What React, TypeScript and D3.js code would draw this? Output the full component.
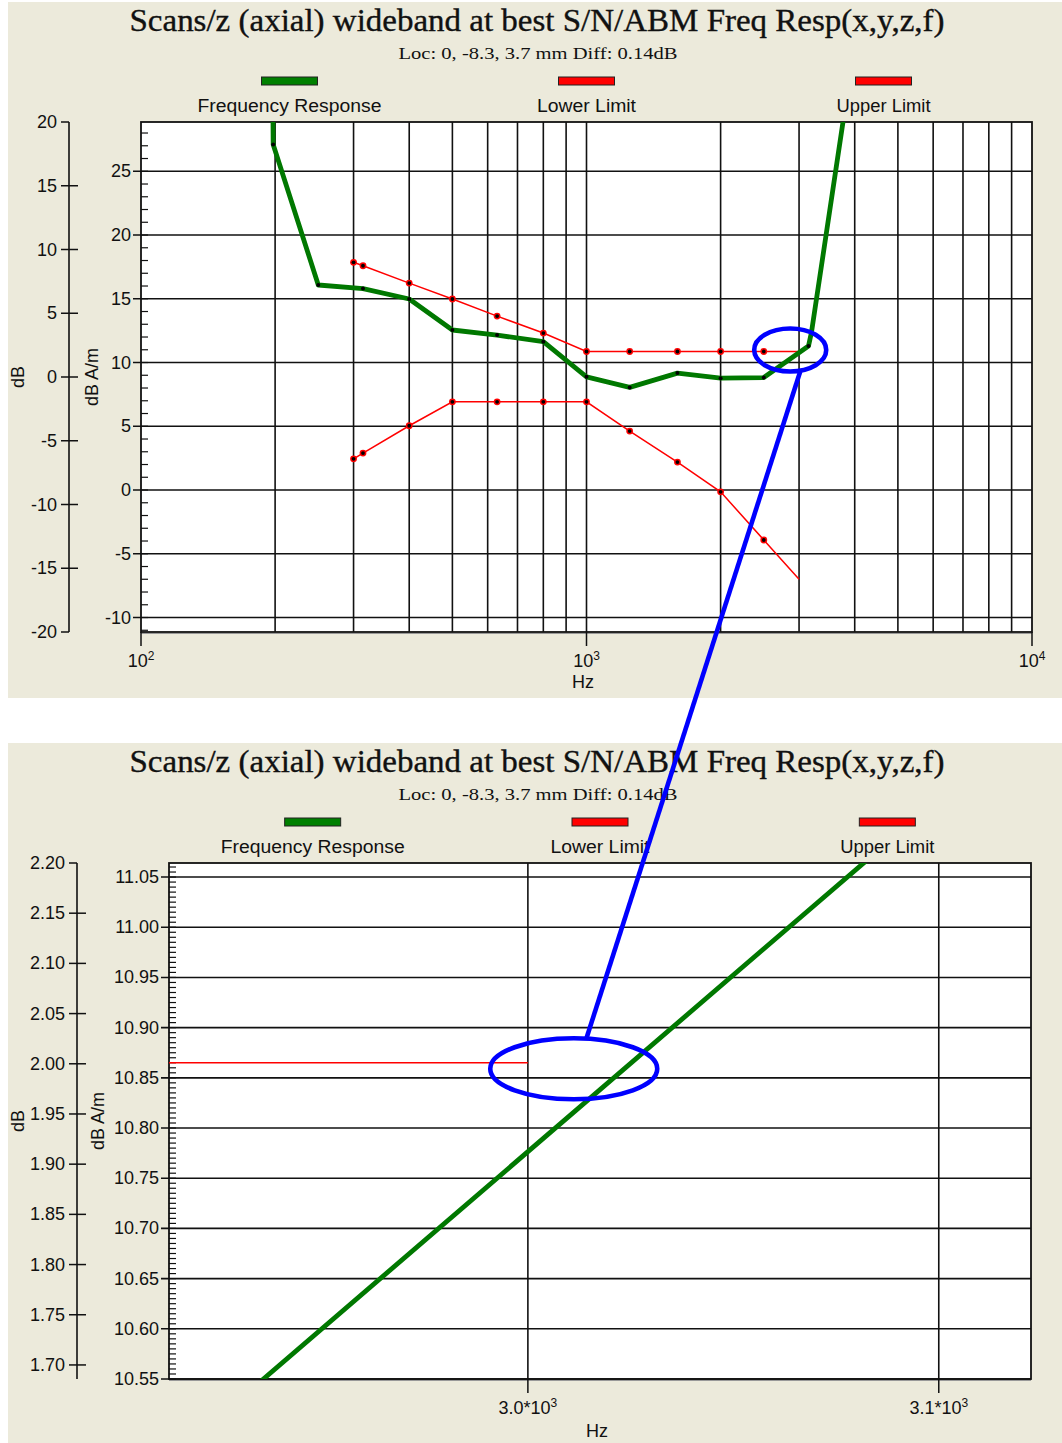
import React from 'react';
import * as d3 from 'd3';

const TITLE = 'Scans/z (axial) wideband at best S/N/ABM Freq Resp(x,y,z,f)';
const SUBTITLE = 'Loc: 0, -8.3, 3.7 mm Diff: 0.14dB';
const LEGEND_NAMES = ['Frequency Response', 'Lower Limit', 'Upper Limit'];
const LEGEND_WIDTHS = [184, 99, 94];
const LEGEND_COLORS = ['#008000', '#ff0000', '#ff0000'];

// Frequency response (dB A/m)
const respFreq = [195, 198, 250, 315, 400, 500, 630, 800, 1000, 1250, 1600, 2000, 2500, 3150, 3200, 4000];
const respValue = [60, 27.1, 16.08, 15.8, 14.98, 12.55, 12.15, 11.63, 8.88, 8.05, 9.17, 8.77, 8.82, 11.3, 12.4, 35];
const respMarked = [false, true, true, true, true, true, true, true, true, true, true, true, true, true, false, false];

// Limits (dB A/m)
const limitFreq = [300, 315, 400, 500, 630, 800, 1000, 1250, 1600, 2000, 2500, 3000];
const upperValue = [17.86, 17.59, 16.23, 14.98, 13.64, 12.31, 10.865, 10.865, 10.865, 10.865, 10.865, 10.865];
const lowerValue = [2.45, 2.9, 5.04, 6.92, 6.92, 6.92, 6.92, 4.62, 2.19, -0.14, -3.92, -7.0];

const DB_OFFSET = 8.864; // dB A/m = dB + offset

// Overview panel axes
const topFreqDomain = [100, 10000];
const topDbDomain = [-20, 20];
const topDecades = [100, 1000, 10000];
const topDecadeExp = ['2', '3', '4'];
const topDbTicks = [-20, -15, -10, -5, 0, 5, 10, 15, 20];
const topAmTicks = [-10, -5, 0, 5, 10, 15, 20, 25];

// Zoom panel axes
const zoomFreqDomain = [2915.3, 3122.9];
const zoomDbDomain = [1.686, 2.2];
const zoomFreqTicks = [3000, 3100];
const zoomFreqLabels = ['3.0*10', '3.1*10'];
const zoomDbTicks = [1.7, 1.75, 1.8, 1.85, 1.9, 1.95, 2.0, 2.05, 2.1, 2.15, 2.2];
const zoomAmTicks = [10.55, 10.6, 10.65, 10.7, 10.75, 10.8, 10.85, 10.9, 10.95, 11.0, 11.05];

// Annotation focus (Hz, dB A/m)
const focusTop = [2866, 10.98];
const focusZoom = [3011, 10.859];

const SANS = 'Liberation Sans, Arial, sans-serif';
const SERIF = 'Liberation Serif, Times New Roman, serif';
const BG = '#ECEADB';

const fmtInt = (v) => String(Math.round(v));
const fmt2 = (v) => v.toFixed(2);

function Panel({ cfg, x, yL, yR }) {
  const { plot, id } = cfg;
  const line = d3.line().x((d) => x(d[0])).y((d) => yR(d[1]));
  const resp = respFreq.map((f, i) => [f, respValue[i]]);
  const up = limitFreq.map((f, i) => [f, upperValue[i]]);
  const lo = limitFreq.map((f, i) => [f, lowerValue[i]]);
  const legend = d3.scaleBand().domain(LEGEND_NAMES).range([plot.l, plot.r]);
  const [r0, r1] = yR.domain();
  const minorTicks = d3
    .range(Math.ceil(r0 / cfg.minorStep - 1e-6), Math.floor(r1 / cfg.minorStep + 1e-6) + 1)
    .map((k) => k * cfg.minorStep);
  const midY = (plot.t + plot.b) / 2;
  return (
    <g>
      <rect x={8} y={cfg.bg[0]} width={1054} height={cfg.bg[1] - cfg.bg[0]} fill={BG} />
      <text x={537} y={cfg.titleY} textAnchor="middle" fontFamily={SERIF} fontSize={31} textLength={815} lengthAdjust="spacingAndGlyphs" fill="#111" stroke="#111" strokeWidth={0.35}>
        {TITLE}
      </text>
      <text x={538} y={cfg.subY} textAnchor="middle" fontFamily={SERIF} fontSize={17} textLength={279} lengthAdjust="spacingAndGlyphs" fill="#111">
        {SUBTITLE}
      </text>
      {LEGEND_NAMES.map((n, i) => {
        const cx = legend(n) + legend.bandwidth() / 2;
        return (
          <g key={n}>
            <rect x={cx - 28} y={cfg.swatchY} width={56} height={8} fill={LEGEND_COLORS[i]} stroke="#222" strokeWidth={1} />
            <text x={cx} y={cfg.legendY} textAnchor="middle" fontFamily={SANS} fontSize={18} textLength={LEGEND_WIDTHS[i]} lengthAdjust="spacingAndGlyphs" fill="#111">
              {n}
            </text>
          </g>
        );
      })}
      <rect x={plot.l} y={plot.t} width={plot.r - plot.l} height={plot.b - plot.t} fill="#fff" />
      <defs>
        <clipPath id={id}>
          <rect x={plot.l} y={plot.t} width={plot.r - plot.l} height={plot.b - plot.t} />
        </clipPath>
      </defs>
      {cfg.vGrid.map((f) => (
        <line key={'vg' + f} x1={x(f)} x2={x(f)} y1={plot.t} y2={plot.b} stroke="#111" strokeWidth={1.6} />
      ))}
      {cfg.amTicks.map((v) => (
        <line key={'hg' + v} x1={plot.l - 8} x2={plot.r} y1={yR(v)} y2={yR(v)} stroke="#111" strokeWidth={1.6} />
      ))}
      {minorTicks.map((v) => (
        <line key={'mt' + v} x1={plot.l} x2={plot.l + 7} y1={yR(v)} y2={yR(v)} stroke="#111" strokeWidth={1.2} />
      ))}
      {cfg.amTicks.map((v) => (
        <text key={'at' + v} x={plot.l - 10} y={yR(v)} textAnchor="end" dominantBaseline="central" fontFamily={SANS} fontSize={18} fill="#111">
          {cfg.amFmt(v)}
        </text>
      ))}
      <rect x={plot.l} y={plot.t} width={plot.r - plot.l} height={plot.b - plot.t} fill="none" stroke="#111" strokeWidth={1.8} />
      <line x1={plot.l} x2={plot.r} y1={plot.b + 1.5} y2={plot.b + 1.5} stroke="#999" strokeWidth={1.2} />
      {cfg.xTicks.map((f, i) => (
        <g key={'xt' + f}>
          <line x1={x(f)} x2={x(f)} y1={plot.b} y2={plot.b + 14} stroke="#111" strokeWidth={1.5} />
          <text x={x(f)} y={cfg.xLabelY} textAnchor="middle" fontFamily={SANS} fontSize={18} fill="#111">
            <tspan>{cfg.xLabels[i]}</tspan>
            <tspan dy={-7} fontSize={12}>{cfg.xExp[i]}</tspan>
          </text>
        </g>
      ))}
      <text x={cfg.hzX} y={cfg.hzY} textAnchor="middle" fontFamily={SANS} fontSize={18} fill="#111">Hz</text>
      <line x1={cfg.lAxisX} x2={cfg.lAxisX} y1={plot.t} y2={plot.b} stroke="#111" strokeWidth={1.6} />
      {cfg.dbTicks.map((v) => {
        const y = yL(v);
        const isEnd = Math.abs(y - plot.t) < 1 || Math.abs(y - plot.b) < 1;
        return (
          <g key={'lt' + v}>
            <line x1={cfg.lAxisX - 8} x2={isEnd ? cfg.lAxisX : cfg.lAxisX + 9} y1={y} y2={y} stroke="#111" strokeWidth={1.5} />
            <text x={cfg.lAxisX - 12} y={y} textAnchor="end" dominantBaseline="central" fontFamily={SANS} fontSize={18} fill="#111">
              {cfg.dbFmt(v)}
            </text>
          </g>
        );
      })}
      <text transform={`translate(${cfg.dbLabelX},${midY}) rotate(-90)`} textAnchor="middle" dominantBaseline="central" fontFamily={SANS} fontSize={18} fill="#111">dB</text>
      <text transform={`translate(${cfg.amLabelX},${midY}) rotate(-90)`} textAnchor="middle" dominantBaseline="central" fontFamily={SANS} fontSize={18} fill="#111">dB A/m</text>
      <g clipPath={`url(#${id})`}>
        <path d={line(up)} fill="none" stroke="#ff0000" strokeWidth={1.5} />
        <path d={line(lo)} fill="none" stroke="#ff0000" strokeWidth={1.5} />
        <path d={line(resp)} fill="none" stroke="#007800" strokeWidth={4.8} strokeLinejoin="round" />
        {[up, lo].map((s, si) =>
          s.slice(0, -1).map((d) => (
            <g key={`m${si}-${d[0]}`}>
              <circle cx={x(d[0])} cy={yR(d[1])} r={3.4} fill="#ff0000" />
              <circle cx={x(d[0])} cy={yR(d[1])} r={1.9} fill="#000" />
            </g>
          ))
        )}
        {resp.map((d, i) =>
          respMarked[i] ? <circle key={'rm' + i} cx={x(d[0])} cy={yR(d[1])} r={2} fill="#000" /> : null
        )}
      </g>
    </g>
  );
}

export default function App() {
  const topPlot = { l: 141, r: 1032, t: 122, b: 632 };
  const zoomPlot = { l: 169, r: 1031, t: 863, b: 1379 };
  const xTop = d3.scaleLog().domain(topFreqDomain).range([topPlot.l, topPlot.r]);
  const yLTop = d3.scaleLinear().domain(topDbDomain).range([topPlot.b, topPlot.t]);
  const yRTop = d3.scaleLinear().domain(topDbDomain.map((v) => v + DB_OFFSET)).range([topPlot.b, topPlot.t]);
  const xZoom = d3.scaleLog().domain(zoomFreqDomain).range([zoomPlot.l, zoomPlot.r]);
  const yLZoom = d3.scaleLinear().domain(zoomDbDomain).range([zoomPlot.b, zoomPlot.t]);
  const yRZoom = d3.scaleLinear().domain(zoomDbDomain.map((v) => v + DB_OFFSET)).range([zoomPlot.b, zoomPlot.t]);

  const topCfg = {
    id: 'clipTop',
    bg: [2, 698],
    plot: topPlot,
    titleY: 31,
    subY: 59,
    swatchY: 77,
    legendY: 112,
    vGrid: xTop.ticks().filter((f) => f > 100 && f < 10000),
    amTicks: topAmTicks,
    minorStep: 1,
    amFmt: fmtInt,
    dbTicks: topDbTicks,
    dbFmt: fmtInt,
    xTicks: topDecades,
    xLabels: topDecades.map(() => '10'),
    xExp: topDecadeExp,
    xLabelY: 667,
    hzX: 583,
    hzY: 688,
    lAxisX: 69,
    dbLabelX: 18,
    amLabelX: 92,
  };
  const zoomCfg = {
    id: 'clipZoom',
    bg: [743, 1443],
    plot: zoomPlot,
    titleY: 772,
    subY: 800,
    swatchY: 818,
    legendY: 853,
    vGrid: zoomFreqTicks,
    amTicks: zoomAmTicks,
    minorStep: 0.005,
    amFmt: fmt2,
    dbTicks: zoomDbTicks,
    dbFmt: fmt2,
    xTicks: zoomFreqTicks,
    xLabels: zoomFreqLabels,
    xExp: ['3', '3'],
    xLabelY: 1414,
    hzX: 597,
    hzY: 1437,
    lAxisX: 77,
    dbLabelX: 18,
    amLabelX: 98,
  };

  const tc = [xTop(focusTop[0]), yRTop(focusTop[1])];
  const zc = [xZoom(focusZoom[0]), yRZoom(focusZoom[1])];
  const tr = [36, 21.5];
  const zr = [83.5, 30.5];

  return (
    <svg width={1062} height={1443} style={{ position: 'absolute', left: 0, top: 0, background: '#fff' }}>
      <Panel cfg={topCfg} x={xTop} yL={yLTop} yR={yRTop} />
      <Panel cfg={zoomCfg} x={xZoom} yL={yLZoom} yR={yRZoom} />
      <g fill="none" stroke="#0000ff" strokeWidth={4.6}>
        <ellipse cx={tc[0]} cy={tc[1]} rx={tr[0]} ry={tr[1]} />
        <ellipse cx={zc[0]} cy={zc[1]} rx={zr[0]} ry={zr[1]} />
        <line x1={tc[0] + 10} y1={tc[1] + tr[1]} x2={zc[0] + 12.7} y2={zc[1] - zr[1]} />
      </g>
    </svg>
  );
}
